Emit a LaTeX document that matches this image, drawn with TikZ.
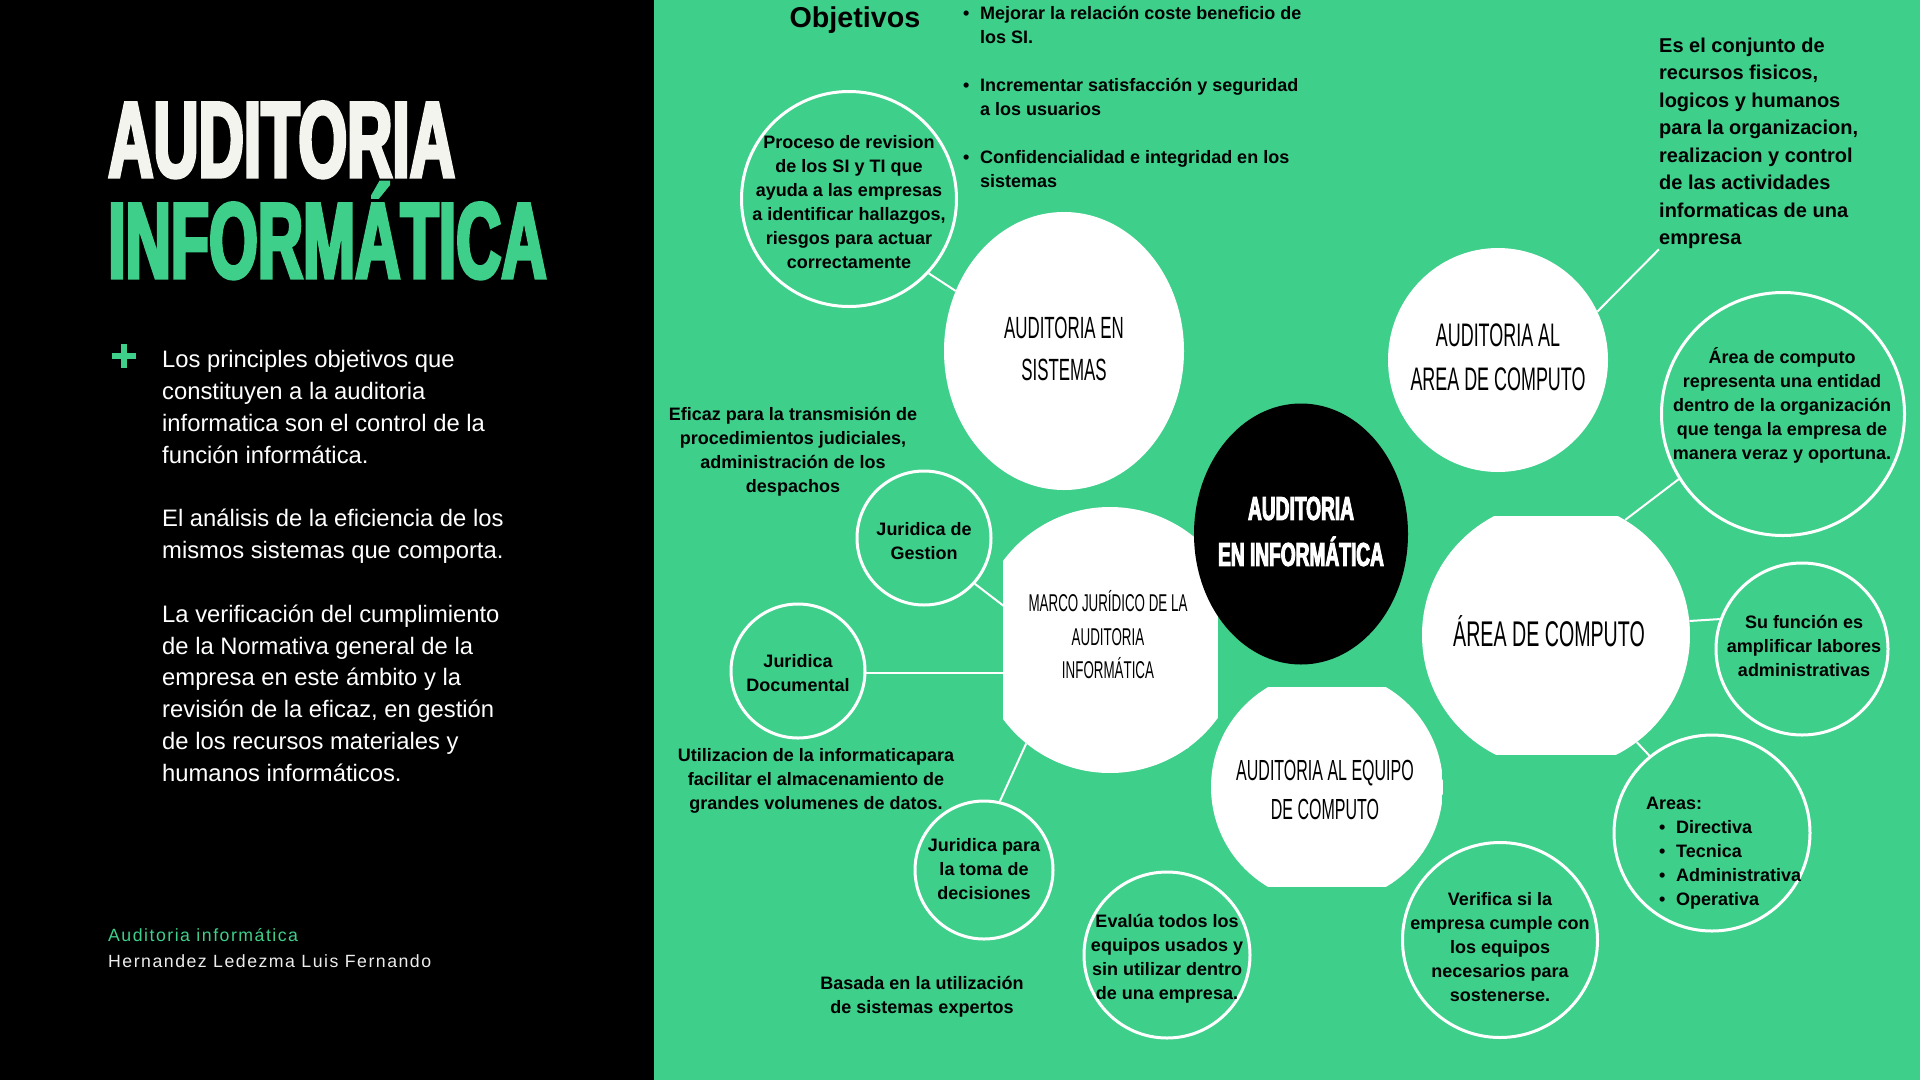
\documentclass[tikz,border=0pt]{standalone}
\usepackage{fontspec}
\setmainfont{Liberation Sans}
\newfontfamily\bebas[FakeStretch=0.55]{Liberation Sans}
\newfontfamily\bebasb[FakeStretch=0.58,FakeBold=3]{Liberation Sans}
\usepackage{xcolor}
\usetikzlibrary{shapes.geometric,backgrounds}
\definecolor{gr}{HTML}{3ECF8A}
\definecolor{offw}{HTML}{F4F4EE}
\newcommand{\fs}[2]{\fontsize{#1}{#2}\selectfont}

\begin{document}
\begin{tikzpicture}[
  x=1pt, y=-1pt,
  outl/.style ={circle, draw=white, line width=3pt, fill=gr, inner sep=0pt},
  wbub/.style ={ellipse, fill=white, inner sep=0pt},
  flatx/.style={circle, inner sep=0pt, path picture={\fill[white]
                ([xshift=-#1]path picture bounding box.south) rectangle
                ([xshift=#1]path picture bounding box.north);}},
  flaty/.style={circle, inner sep=0pt, path picture={\fill[white]
                ([yshift=-#1]path picture bounding box.west) rectangle
                ([yshift=#1]path picture bounding box.east);}},
  txt/.style  ={font=\fs{18}{24}\bfseries, align=center, inner sep=0pt},
  cap/.style 2 args={font=\bebas\fs{#1}{#2}, align=center, inner sep=0pt},
  link/.style ={draw=white, line width=2pt},
]
\useasboundingbox (0,0) rectangle (1920,1080);

% ---- panels ----
\begin{scope}[on background layer]
  \fill[black] (0,0) rectangle (654,1080);
  \fill[gr] (654,0) rectangle (1920,1080);
\end{scope}

% ---- left panel ----
\node[font=\bebasb\bfseries\fs{108}{108}, text=offw, anchor=base west, inner sep=0pt] (ttl1) at (108,177) {AUDITORIA};
\node[font=\bebasb\bfseries\fs{108}{108}, text=gr, anchor=base west, inner sep=0pt] (ttl2) at (108,278) {INFORMÁTICA};
\draw[gr, line width=6pt] (112,356) -- (136,356) (124,344) -- (124,368);
\node[font=\fs{23.8}{31.8}, text=white, align=left, anchor=west, inner sep=0pt] (intro) at (162,566)
  {Los principles objetivos que\\constituyen a la auditoria\\informatica son el control de la\\función informática.\\[31.8pt]
   El análisis de la eficiencia de los\\mismos sistemas que comporta.\\[31.8pt]
   La verificación del cumplimiento\\de la Normativa general de la\\empresa en este ámbito y la\\revisión de la eficaz, en gestión\\de los recursos materiales y\\humanos informáticos.};
\node[font=\fs{17.7}{20}\addfontfeature{LetterSpace=8.5}, text=gr, anchor=west, inner sep=0pt] (sub1) at (108,935) {Auditoria informática};
\node[font=\fs{17.7}{20}\addfontfeature{LetterSpace=8.5}, text=white!93!black, anchor=west, inner sep=0pt] (sub2) at (108,961) {Hernandez Ledezma Luis Fernando};

% ---- Objetivos ----
\node[font=\fs{28.7}{30}\bfseries, inner sep=0pt] (objt) at (855,20) {Objetivos};
\node[txt, align=left, anchor=west] (objl) at (963,97)
  {\makebox[17pt][l]{\textbullet}Mejorar la relación coste beneficio de\\\hspace*{17pt}los SI.\\[24pt]
   \makebox[17pt][l]{\textbullet}Incrementar satisfacción y seguridad\\\hspace*{17pt}a los usuarios\\[24pt]
   \makebox[17pt][l]{\textbullet}Confidencialidad e integridad en los\\\hspace*{17pt}sistemas};

% ---- auditoria en sistemas ----
\node[outl, minimum size=215pt] (proc) at (849,199) {};
\node[txt] (proct) at (849,202) {Proceso de revision\\de los SI y TI que\\ayuda a las empresas\\a identificar hallazgos,\\riesgos para actuar\\correctamente};
\node[wbub, minimum width=240pt, minimum height=278pt] (aes) at (1064,351) {};
\node[cap={30.7}{42}] (aest) at (1064,349) {AUDITORIA EN\\SISTEMAS};

% ---- area de computo (top) ----
\node[wbub, minimum width=220pt, minimum height=224pt] (aac) at (1498,360) {};
\node[cap={32.6}{44}] (aact) at (1498,357) {AUDITORIA AL\\AREA DE COMPUTO};
\node[font=\fs{20}{27.5}\bfseries, align=left, anchor=west, inner sep=0pt] (conj) at (1659,143.5)
  {Es el conjunto de\\recursos fisicos,\\logicos y humanos\\para la organizacion,\\realizacion y control\\de las actividades\\informaticas de una\\empresa};

% ---- marco juridico ----
\node[flatx=107.5pt, minimum size=266pt] (marco) at (1110,640) {};
\node[cap={24.3}{33.5}] (marcot) at (1108,635) {MARCO JURÍDICO DE LA\\AUDITORIA\\INFORMÁTICA};
\node[outl, minimum size=134pt] (gest) at (924,538) {};
\node[txt] (gestt) at (924,541) {Juridica de\\Gestion};
\node[outl, minimum size=134pt] (docu) at (798,671) {};
\node[txt] (docut) at (798,673.5) {Juridica\\Documental};
\node[outl, minimum size=138pt] (toma) at (984,870) {};
\node[txt] (tomat) at (984,869) {Juridica para\\la toma de\\decisiones};
\node[txt] (efic) at (793,451.5) {Eficaz para la transmisión de\\procedimientos judiciales,\\administración de los\\despachos};
\node[txt] (util) at (816,780.5) {Utilizacion de la informaticapara\\facilitar el almacenamiento de\\grandes volumenes de datos.};
\node[txt] (basa) at (922,996.5) {Basada en la utilización\\de sistemas expertos};

% ---- centre ----
\node[ellipse, fill=black, minimum width=214pt, minimum height=261pt, inner sep=0pt] (core) at (1301,534) {};
\node[font=\bebasb\bfseries\fs{33}{46}, text=white, align=center, inner sep=0pt] (coret) at (1301,531.5) {AUDITORIA\\EN INFORMÁTICA};

% ---- equipo de computo ----
\node[flaty=100pt, minimum size=232pt] (aeq) at (1327,787) {};
\node[cap={29.1}{39}] (aeqt) at (1325,790) {AUDITORIA AL EQUIPO\\DE COMPUTO};
\node[outl, minimum size=166pt] (eval) at (1167,955) {};
\node[txt] (evalt) at (1167,958.5) {Evalúa todos los\\equipos usados y\\sin utilizar dentro\\de una empresa.};
\node[outl, minimum size=195pt] (verif) at (1500,940) {};
\node[txt] (verift) at (1500,947) {Verifica si la\\empresa cumple con\\los equipos\\necesarios para\\sostenerse.};

% ---- area de computo (right) ----
\node[flaty=119.5pt, minimum size=268pt] (acomp) at (1556,635) {};
\node[cap={35.7}{40}, anchor=base] (acompt) at (1549,646) {ÁREA DE COMPUTO};
\node[outl, minimum size=243pt] (arep) at (1783,414) {};
\node[txt] (arept) at (1782,405) {Área de computo\\representa una entidad\\dentro de la organización\\que tenga la empresa de\\manera veraz y oportuna.};
\node[outl, minimum size=172pt] (sufun) at (1802,649) {};
\node[txt] (sufunt) at (1804,646) {Su función es\\amplificar labores\\administrativas};
\node[outl, minimum size=196pt] (areas) at (1712,833) {};
\node[txt, align=left, anchor=west] (areast) at (1646,853)
  {Areas:\\\hspace*{13pt}\makebox[17pt][l]{\textbullet}Directiva\\\hspace*{13pt}\makebox[17pt][l]{\textbullet}Tecnica\\
   \hspace*{13pt}\makebox[17pt][l]{\textbullet}Administrativa\\\hspace*{13pt}\makebox[17pt][l]{\textbullet}Operativa};

% ---- edges ----
\begin{scope}[on background layer]
  \draw[link] (proc.-43) -- (aes.151);
  \draw[link] (aac.26) -- (conj.south west);
  \draw[link] (acomp.59) -- (arep.212);
  \draw[link] (acomp.6.4) -- (sufun.160.3);
  \draw[link] (acomp.-53) -- (areas.129);
  \draw[link] (gest.-42.6) -- (marco.-54);
  \draw[link] (docu.-2.6) -- (docu.-2.6 -| marco.center);
  \draw[link] (toma.77) -- (marco.231);
\end{scope}
\end{tikzpicture}
\end{document}
